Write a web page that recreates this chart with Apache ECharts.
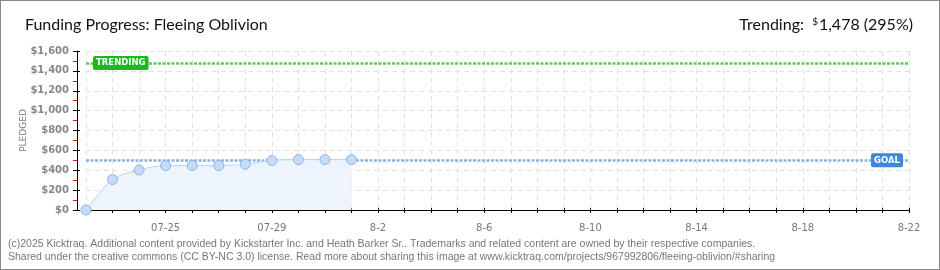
<!DOCTYPE html>
<html><head><meta charset="utf-8">
<script src="https://cdn.jsdelivr.net/npm/echarts@6/dist/echarts.min.js"></script>
<style>
html,body{margin:0;padding:0;background:#fff;}
#c{width:938px;height:268px;border:1px solid #8a8a8a;}
</style></head>
<body><div id="c"></div>
<script>
// ---- data ----
const categories = ['07-22','07-23','07-24','07-25','07-26','07-27','07-28','07-29','07-30','07-31',
  '8-1','8-2','8-3','8-4','8-5','8-6','8-7','8-8','8-9','8-10','8-11','8-12','8-13','8-14','8-15',
  '8-16','8-17','8-18','8-19','8-20','8-21','8-22'];
const pledged = [0, 307, 403, 447, 447, 447, 460, 497, 507, 507, 507];
const goal = 500;
const trending = 1478;
const trendingPct = 295;
const titleText = 'Funding Progress: Fleeing Oblivion';
const footer1 = '(c)2025 Kicktraq. Additional content provided by Kickstarter Inc. and Heath Barker Sr.. Trademarks and related content are owned by their respective companies.';
const footer2 = 'Shared under the creative commons (CC BY-NC 3.0) license. Read more about sharing this image at www.kicktraq.com/projects/967992806/fleeing-oblivion/#sharing';

const fmt = v => '$' + v.toString().replace(/\B(?=(\d{3})+(?!\d))/g, ',');
const chart = echarts.init(document.getElementById('c'), null, {renderer:'canvas'});
const tfont = 'Lato, "Liberation Sans", sans-serif';
const yCommon = {type:'value', min:0, max:1600, interval:200, offset:9};
const xCommon = {type:'category', data:categories, boundaryGap:false, offset:9};
chart.setOption({
  animation:false,
  title:[
    {text:titleText, left:19, top:11, textStyle:{fontFamily:tfont, fontSize:16, fontWeight:'normal', color:'#111'}},
    {text:'{a|Trending:  }{s|$}{a|' + trending.toLocaleString('en-US') + ' (' + trendingPct + '%)}', right:21, top:11,
     textStyle:{fontWeight:'normal', rich:{a:{fontFamily:tfont, fontSize:16, fontWeight:'normal', color:'#111'},
       s:{fontFamily:tfont, fontSize:10, fontWeight:'normal', color:'#111', verticalAlign:'top', padding:[0,1,6,0]}}}}
  ],
  grid:{left:85, right:30, top:50, bottom:59},
  xAxis:[
    Object.assign({}, xCommon, {
      axisLine:{lineStyle:{color:'#000', width:1}},
      axisTick:{show:true, interval:0, length:3, lineStyle:{color:'#000'}},
      axisLabel:{interval:(i)=> i%4===3, color:'#777', fontFamily:'DejaVu Sans', fontSize:10, margin:4},
      splitLine:{show:true, interval:0, lineStyle:{color:'#e2e2e2', type:[5,4]}}
    }),
    Object.assign({}, xCommon, {position:'bottom',
      axisLine:{show:false}, axisLabel:{show:false}, splitLine:{show:false},
      axisTick:{show:true, inside:true, interval:0, length:2, lineStyle:{color:'#000'}}})
  ],
  yAxis:[
    Object.assign({}, yCommon, {
      name:'PLEDGED', nameLocation:'middle', nameGap:49, nameRotate:90, nameMoveOverlap:false,
      nameTextStyle:{color:'#777', fontFamily:'DejaVu Sans', fontSize:9, fontWeight:'normal'},
      axisLine:{show:true, lineStyle:{color:'#000'}},
      axisTick:{show:true, length:4, lineStyle:{color:'#000'}},
      minorTick:{show:true, splitNumber:2, length:4, lineStyle:{color:'#e00'}},
      axisLabel:{formatter:fmt, color:'#888', fontFamily:'DejaVu Sans', fontSize:10, fontWeight:'bold', margin:8},
      splitLine:{show:true, lineStyle:{color:'#e2e2e2', type:[5,4]}}
    }),
    Object.assign({}, yCommon, {position:'left',
      axisLine:{show:false}, axisLabel:{show:false}, splitLine:{show:false},
      axisTick:{show:true, inside:true, length:3, lineStyle:{color:'#000'}}})
  ],
  series:[{
    type:'line', data:pledged, smooth:0.3,
    symbol:'circle', symbolSize:10,
    itemStyle:{color:'#c6dcf6', borderColor:'#8fb2df', borderWidth:1},
    lineStyle:{color:'#b9d3f0', width:1},
    areaStyle:{color:'#edf4fd', opacity:1},
    z:3,
    markLine:{
      silent:true, symbol:['none','none'], z:2,
      data:[
        {yAxis:trending, lineStyle:{color:'#5dc95d', width:2.5, type:[3,1.5]},
         label:{show:true, formatter:'TRENDING', position:'insideStart', distance:[7,-7], backgroundColor:'#1cb81c', color:'#fff',
                fontFamily:'DejaVu Sans', fontSize:8.5, fontWeight:'bold', padding:[3,3,2,3], borderRadius:2, verticalAlign:'middle', align:'left'}},
        {yAxis:goal, lineStyle:{color:'#8cb1e2', width:2.5, type:[3,1.5]},
         label:{show:true, formatter:'GOAL', position:'insideEnd', distance:[6,-7], backgroundColor:'#3f88d8', color:'#fff',
                fontFamily:'DejaVu Sans', fontSize:8.5, fontWeight:'bold', padding:[3,3,2,3], borderRadius:2, verticalAlign:'middle', align:'right'}}
      ]
    }
  }],
  graphic:[
    {type:'text', left:7, top:238, style:{text:footer1, fill:'#777', font:'10.5px "Liberation Sans Narrow", sans-serif'}},
    {type:'text', left:7, top:251, style:{text:footer2, fill:'#777', font:'10.5px "Liberation Sans Narrow", sans-serif'}}
  ]
});
</script></body></html>
